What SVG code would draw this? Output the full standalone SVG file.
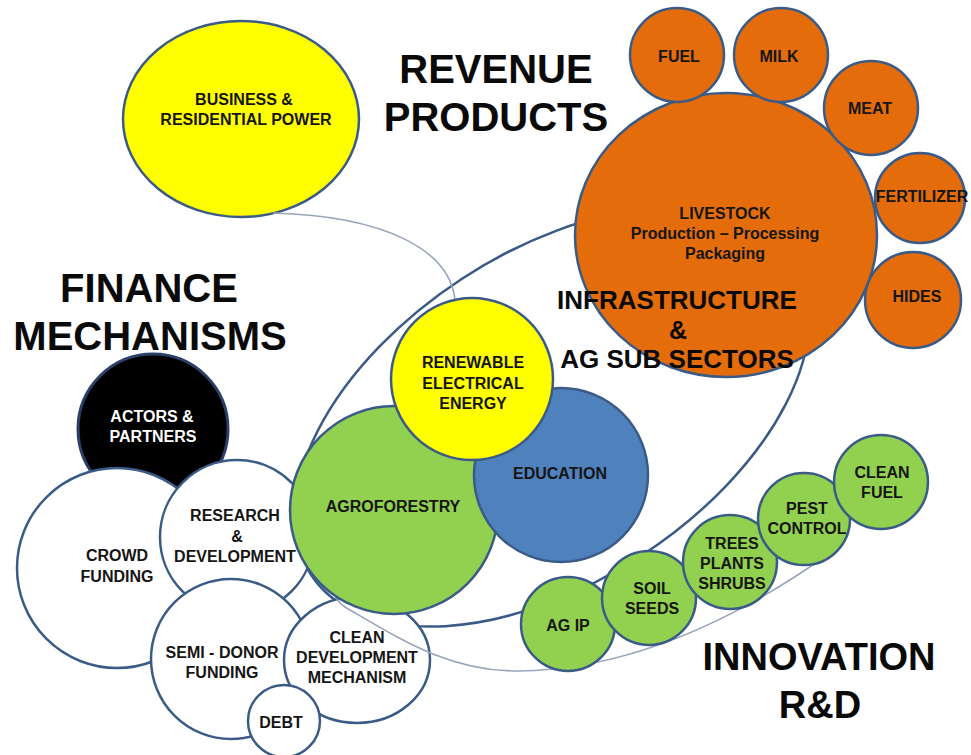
<svg xmlns="http://www.w3.org/2000/svg" width="971" height="755" viewBox="0 0 971 755">
<style>
text{font-family:"Liberation Sans",Arial,sans-serif;font-weight:bold;text-anchor:middle;fill:#151515}
.lbl{font-size:16px}
.big{font-size:40px;fill:#0a0a0a}
.mid{font-size:25px;fill:#0a0a0a}
.node{stroke:#3b5b87;stroke-width:2.5}
.white{fill:#ffffff}
.yellow{fill:#ffff00}
.orange{fill:#e46c0a}
.green{fill:#92d050}
.blue{fill:#4f81bd}
.region{fill:none;stroke:#3b5b87;stroke-width:2.5}
.conn{fill:none;stroke:#98a6bb;stroke-width:1.6}
</style>
<rect width="971" height="755" fill="#ffffff"/>

<g id="infrastructure-region">
<ellipse class="region" cx="552" cy="417" rx="288" ry="165" transform="rotate(-33.2 552 417)"/>
</g>

<g id="business-power">
<ellipse class="node yellow" cx="241" cy="119" rx="118" ry="98"/>
<text class="lbl" x="244" y="105">BUSINESS &amp;</text>
<text class="lbl" x="246" y="125">RESIDENTIAL POWER</text>
</g>

<g id="actors-partners">
<circle cx="153" cy="429" r="75" fill="#000000" stroke="#2b4068" stroke-width="3"/>
<text class="lbl" x="152" y="422" style="fill:#ffffff">ACTORS &amp;</text>
<text class="lbl" x="153" y="442" style="fill:#ffffff">PARTNERS</text>
</g>

<g id="crowd-funding">
<circle class="node white" cx="117" cy="568" r="100"/>
<text class="lbl" x="117" y="561">CROWD</text>
<text class="lbl" x="117" y="582">FUNDING</text>
</g>

<g id="research-development">
<circle class="node white" cx="237" cy="537" r="77"/>
<text class="lbl" x="235" y="521">RESEARCH</text>
<text class="lbl" x="237" y="542">&amp;</text>
<text class="lbl" x="235" y="562">DEVELOPMENT</text>
</g>

<g id="semi-donor-funding">
<circle class="node white" cx="231" cy="659" r="80"/>
<text class="lbl" x="222" y="658">SEMI - DONOR</text>
<text class="lbl" x="222" y="678">FUNDING</text>
</g>

<g id="clean-development-mechanism">
<ellipse class="node white" cx="357" cy="660" rx="73" ry="63"/>
<text class="lbl" x="357" y="643">CLEAN</text>
<text class="lbl" x="357" y="663">DEVELOPMENT</text>
<text class="lbl" x="357" y="683">MECHANISM</text>
</g>

<g id="debt">
<circle class="node white" cx="284" cy="721" r="36"/>
<text class="lbl" x="281" y="728">DEBT</text>
</g>

<g id="connectors">
<path class="conn" d="M273,213 C385,216 450,250 455,300 C458,420 290,575 345,607 C400,639 450,672 520,671 C640,669 750,610 830,553"/>
</g>

<g id="agroforestry">
<circle class="node green" cx="394" cy="510" r="104"/>
<text class="lbl" x="393" y="512">AGROFORESTRY</text>
</g>

<g id="education">
<circle class="node blue" cx="561" cy="475" r="87"/>
<text class="lbl" x="560" y="479">EDUCATION</text>
</g>

<g id="renewable-energy">
<circle class="node yellow" cx="472" cy="379" r="81"/>
<text class="lbl" x="473" y="368">RENEWABLE</text>
<text class="lbl" x="473" y="389">ELECTRICAL</text>
<text class="lbl" x="473" y="409">ENERGY</text>
</g>

<g id="livestock">
<ellipse class="node orange" cx="726" cy="235" rx="151" ry="142"/>
<text class="lbl" x="725" y="219">LIVESTOCK</text>
<text class="lbl" x="725" y="239">Production – Processing</text>
<text class="lbl" x="725" y="259">Packaging</text>
</g>

<g id="fuel">
<circle class="node orange" cx="677" cy="55" r="47"/>
<text class="lbl" x="679" y="62">FUEL</text>
</g>
<g id="milk">
<circle class="node orange" cx="781" cy="55" r="47"/>
<text class="lbl" x="779" y="62">MILK</text>
</g>
<g id="meat">
<circle class="node orange" cx="871" cy="108" r="47"/>
<text class="lbl" x="870" y="114">MEAT</text>
</g>
<g id="fertilizer">
<circle class="node orange" cx="920" cy="198" r="45"/>
<text class="lbl" x="922" y="202">FERTILIZER</text>
</g>
<g id="hides">
<circle class="node orange" cx="913" cy="300" r="48"/>
<text class="lbl" x="917" y="302">HIDES</text>
</g>

<g id="ag-ip">
<circle class="node green" cx="568" cy="624" r="47"/>
<text class="lbl" x="568" y="631">AG IP</text>
</g>
<g id="soil-seeds">
<circle class="node green" cx="649" cy="598" r="47"/>
<text class="lbl" x="652" y="594">SOIL</text>
<text class="lbl" x="652" y="614">SEEDS</text>
</g>
<g id="trees-plants-shrubs">
<circle class="node green" cx="730" cy="562" r="47"/>
<text class="lbl" x="732" y="549">TREES</text>
<text class="lbl" x="732" y="569">PLANTS</text>
<text class="lbl" x="732" y="589">SHRUBS</text>
</g>
<g id="pest-control">
<circle class="node green" cx="804" cy="519" r="46"/>
<text class="lbl" x="807" y="514">PEST</text>
<text class="lbl" x="807" y="534">CONTROL</text>
</g>
<g id="clean-fuel">
<circle class="node green" cx="881" cy="482" r="47"/>
<text class="lbl" x="882" y="478">CLEAN</text>
<text class="lbl" x="882" y="498">FUEL</text>
</g>

<g id="headings">
<text class="big" x="496" y="83">REVENUE</text>
<text class="big" x="496" y="131">PRODUCTS</text>
<text class="big" x="149" y="302">FINANCE</text>
<text class="big" x="150" y="350">MECHANISMS</text>
<text class="mid" x="677" y="309" style="font-size:26px">INFRASTRUCTURE</text>
<text class="mid" x="678" y="339">&amp;</text>
<text class="mid" x="677" y="368" style="font-size:26px">AG SUB SECTORS</text>
<text class="big" x="819" y="670" style="font-size:38px">INNOVATION</text>
<text class="big" x="820" y="718" style="font-size:38px">R&amp;D</text>
</g>
</svg>
